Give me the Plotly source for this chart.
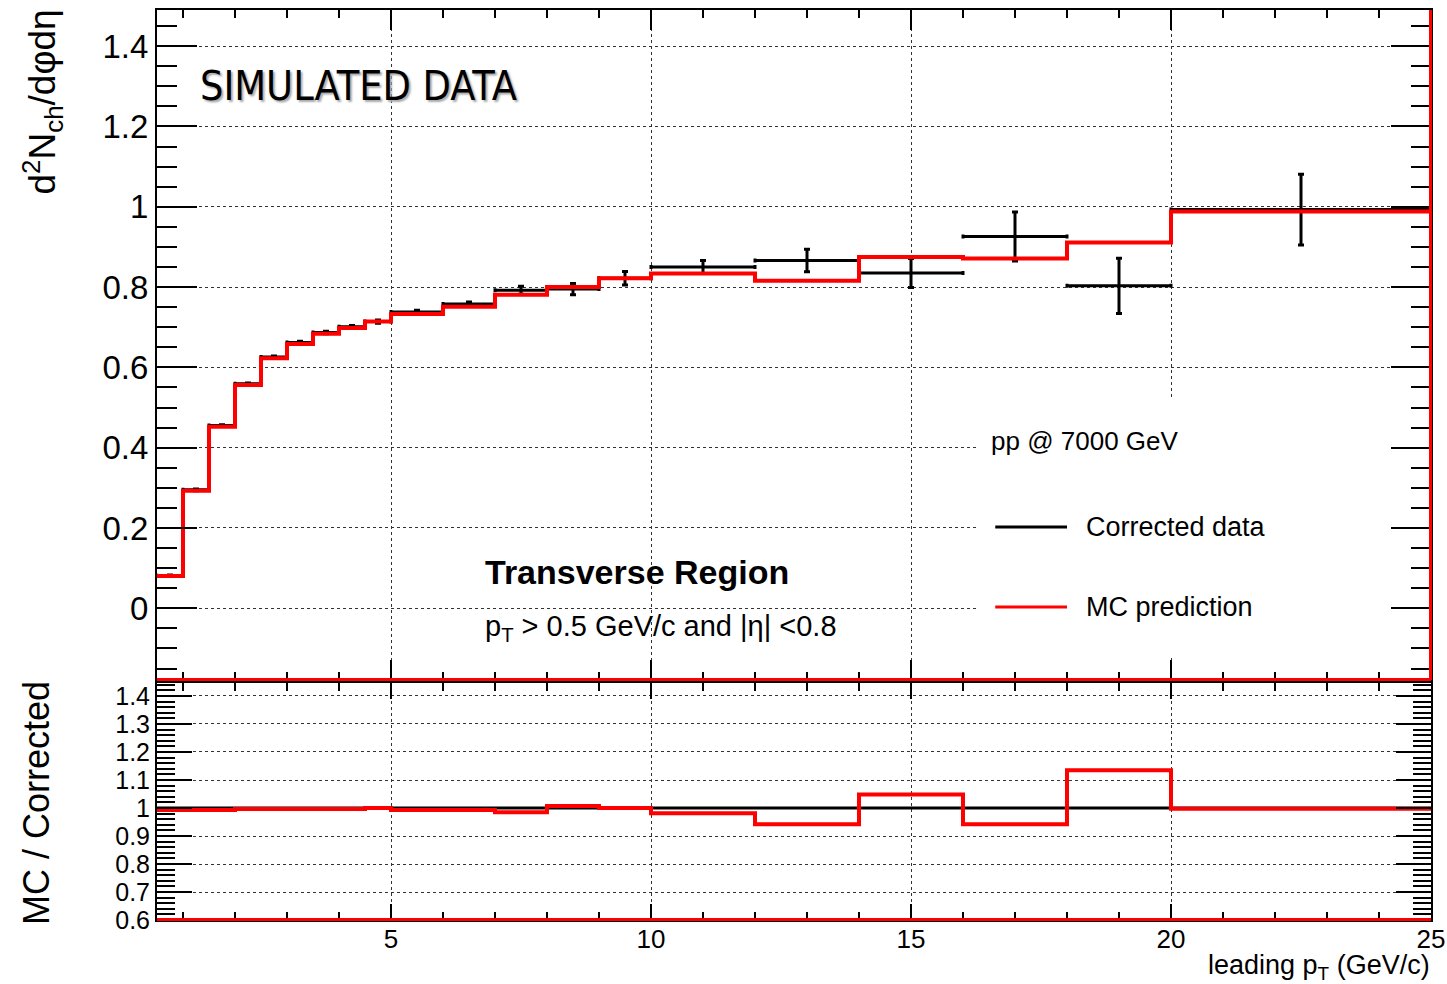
import plotly.graph_objects as go

# ---------------- data ----------------
bin_edges = [0.5, 1, 1.5, 2, 2.5, 3, 3.5, 4, 4.5, 5, 6, 7, 8, 9, 10, 12, 14, 16, 18, 20, 25]
corrected_data = [0.081, 0.295, 0.455, 0.559, 0.626, 0.662, 0.687, 0.701, 0.714, 0.738,
                  0.758, 0.792, 0.795, 0.822, 0.850, 0.866, 0.835, 0.926, 0.803, 0.993]
corrected_err = [0.002, 0.002, 0.002, 0.002, 0.002, 0.003, 0.003, 0.003, 0.004, 0.004,
                 0.005, 0.010, 0.014, 0.017, 0.016, 0.028, 0.036, 0.061, 0.069, 0.088]
mc_prediction = [0.0805, 0.293, 0.452, 0.556, 0.623, 0.658, 0.684, 0.698, 0.714, 0.733,
                 0.751, 0.781, 0.800, 0.822, 0.834, 0.816, 0.875, 0.871, 0.911, 0.988]
ratio_mc_corrected = [0.993, 0.993, 0.993, 0.996, 0.996, 0.996, 0.996, 0.996, 1.000, 0.993,
                      0.993, 0.985, 1.007, 1.000, 0.981, 0.942, 1.048, 0.942, 1.135, 0.997]
reference_ratio = [1.0] * len(corrected_data)

W, H = 1447, 984
FONT = "Liberation Sans, Arial, Helvetica, sans-serif"

centers = [(a + b) / 2 for a, b in zip(bin_edges[:-1], bin_edges[1:])]
half_widths = [(b - a) / 2 for a, b in zip(bin_edges[:-1], bin_edges[1:])]


def px(xp):
    return xp / W


def py(yp):
    return 1 - yp / H


fig = go.Figure()

# --- top panel ---
fig.add_trace(go.Scatter(
    x=centers, y=corrected_data, mode="markers",
    marker=dict(size=2, color="black"),
    error_x=dict(type="data", array=half_widths, color="black", thickness=3, width=2),
    error_y=dict(type="data", array=corrected_err, color="black", thickness=3, width=3),
    xaxis="x", yaxis="y", showlegend=False, name="Corrected data"))
fig.add_trace(go.Scatter(
    x=bin_edges, y=mc_prediction + [mc_prediction[-1]], mode="lines",
    line=dict(shape="hv", color="red", width=4),
    xaxis="x", yaxis="y", showlegend=False, name="MC prediction"))

# --- ratio panel ---
fig.add_trace(go.Scatter(
    x=bin_edges, y=reference_ratio + [reference_ratio[-1]], mode="lines",
    line=dict(shape="hv", color="black", width=3),
    xaxis="x2", yaxis="y2", showlegend=False))
fig.add_trace(go.Scatter(
    x=bin_edges, y=ratio_mc_corrected + [ratio_mc_corrected[-1]], mode="lines",
    line=dict(shape="hv", color="red", width=4),
    xaxis="x2", yaxis="y2", showlegend=False))

x_dom = [px(157), px(1431)]
top_dom = [py(680), py(10)]
bot_dom = [py(920), py(683)]
top_range = [-0.1786, 1.490]
bot_range = [0.6, 1.4464]
x_range = [0.5, 25]

grid = dict(showgrid=True, gridcolor="#333", griddash="dot", gridwidth=1)
line = dict(showline=True, linecolor="black", linewidth=2, mirror="ticks", zeroline=False,
            automargin=False, tickcolor="black", tickwidth=2, ticks="inside")

fig.update_layout(
    width=W, height=H, margin=dict(l=0, r=0, t=0, b=0),
    paper_bgcolor="white", plot_bgcolor="white",
    font=dict(family=FONT, color="black"),
    xaxis=dict(domain=x_dom, range=x_range, tick0=0, dtick=5, ticklen=20,
               showticklabels=False, anchor="y",
               minor=dict(dtick=1, tick0=0, ticklen=8, tickwidth=2, tickcolor="black",
                          ticks="inside", showgrid=False),
               **grid, **line),
    yaxis=dict(domain=top_dom, range=top_range, tick0=0, dtick=0.2, ticklen=40,
               anchor="x", tickfont=dict(size=33, family=FONT),
               minor=dict(dtick=0.05, tick0=0, ticklen=20, tickwidth=2, tickcolor="black",
                          ticks="inside", showgrid=False),
               **grid, **line),
    xaxis2=dict(domain=x_dom, range=x_range, tick0=0, dtick=5, ticklen=16,
                matches="x", anchor="y2", tickfont=dict(size=26, family=FONT),
                ticklabelstandoff=-5,
                minor=dict(dtick=1, tick0=0, ticklen=8, tickwidth=2, tickcolor="black",
                           ticks="inside", showgrid=False),
                **grid, **line),
    yaxis2=dict(domain=bot_dom, range=bot_range, tick0=0, dtick=0.1, ticklen=35,
                anchor="x2", tickfont=dict(size=25, family=FONT),
                minor=dict(dtick=0.02, tick0=0, ticklen=18, tickwidth=2, tickcolor="black",
                           ticks="inside", showgrid=False),
                **grid, **line),
)

shapes = []
# legend box (covers grid lines)
shapes.append(dict(type="rect", xref="x", yref="y", x0=16.27, x1=25, y0=-0.12, y1=0.519,
                   fillcolor="white", line=dict(width=0), layer="between"))
# legend samples
shapes.append(dict(type="line", xref="x", yref="y", x0=16.62, x1=18.0, y0=0.2025, y1=0.2025,
                   line=dict(color="black", width=3)))
shapes.append(dict(type="line", xref="x", yref="y", x0=16.62, x1=18.0, y0=0.003, y1=0.003,
                   line=dict(color="red", width=3)))
# red edges (as in the reference)
shapes.append(dict(type="line", xref="paper", yref="paper", x0=x_dom[0], x1=x_dom[1],
                   y0=top_dom[0] + 0.5 / H, y1=top_dom[0] + 0.5 / H,
                   line=dict(color="red", width=3), layer="above"))
shapes.append(dict(type="line", xref="paper", yref="paper", x0=x_dom[1] - 0.5 / W, x1=x_dom[1] - 0.5 / W,
                   y0=top_dom[0], y1=top_dom[1],
                   line=dict(color="red", width=3), layer="above"))
shapes.append(dict(type="line", xref="paper", yref="paper", x0=x_dom[0], x1=x_dom[1],
                   y0=bot_dom[0] + 0.5 / H, y1=bot_dom[0] + 0.5 / H,
                   line=dict(color="red", width=3), layer="above"))
fig.update_layout(shapes=shapes)

ann = []


def text(t, x, y, size, xanchor="left", yanchor="middle", angle=0, family=FONT, **kw):
    ann.append(dict(text=t, x=x, y=y, xref="paper", yref="paper", xanchor=xanchor,
                    yanchor=yanchor, showarrow=False, textangle=angle,
                    font=dict(size=size, family=family, color="black", **kw)))


text("d<sup>2</sup>N<sub>ch</sub>/dφdη", px(42), py(8), 37, xanchor="center", yanchor="top", angle=-90)
text("MC / Corrected", px(36), py(803), 36, xanchor="center", yanchor="middle", angle=-90)
text("leading p<sub>T</sub> (GeV/c)", px(1432), py(967), 27, xanchor="right")
text("<b>Transverse Region</b>", px(483), py(572), 34)
text("p<sub>T</sub> &gt; 0.5 GeV/c and |η| &lt;0.8", px(483), py(628), 29)
text("pp @ 7000 GeV", px(989), py(441), 26)
text("Corrected data", px(1084), py(527), 27)
text("MC prediction", px(1084), py(607), 27)
text("SIMULATED DATA", px(198), py(86), 41,
     family="Liberation Sans Narrow, DejaVu Sans Condensed, Arial Narrow, sans-serif",
     shadow="2px 2px 2px #aaaaaa")
fig.update_layout(annotations=ann)

fig.write_html("out.html")
